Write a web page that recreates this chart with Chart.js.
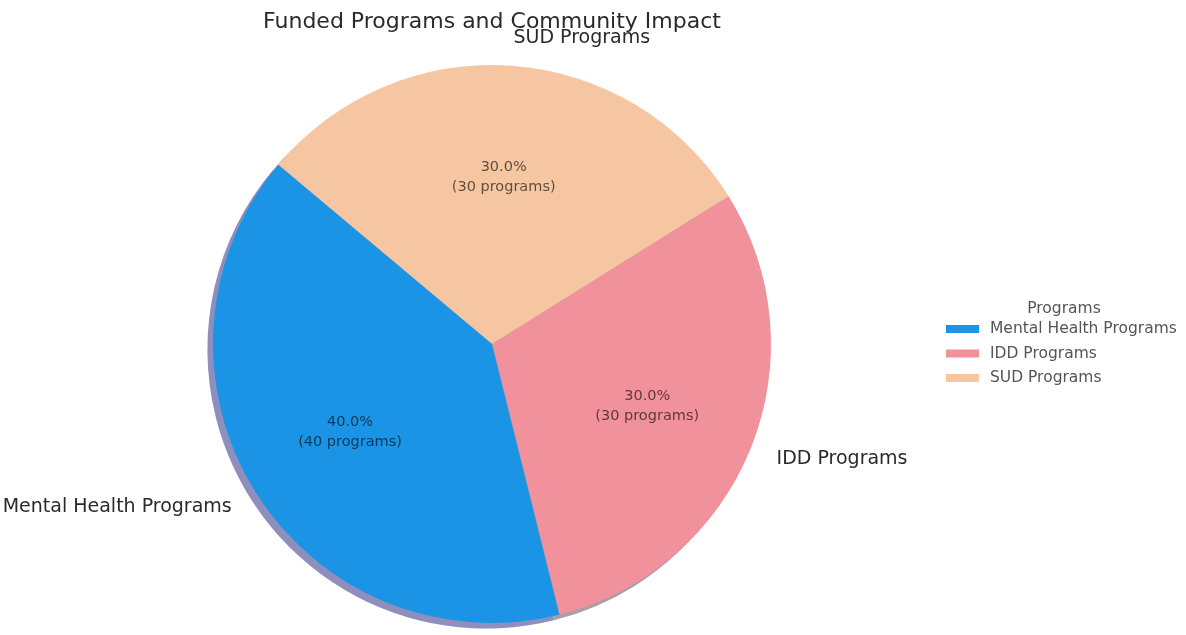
<!DOCTYPE html>
<html>
<head>
<meta charset="utf-8">
<script src="https://cdn.jsdelivr.net/npm/chart.js@4.4.1/dist/chart.umd.min.js"></script>
<style>
    html, body { margin: 0; padding: 0; background: #fff; }
    #wrap { width: 1186px; height: 635px; position: relative; }
</style>
</head>
<body>
<div id="wrap"><canvas id="pieChart"></canvas></div>
<script>
// Data (legend order)
const categories = ['Mental Health Programs', 'IDD Programs', 'SUD Programs'];
const programCounts = [40, 30, 30];
const sliceColors = ['#1b94e6', '#f0919b', '#f6c5a1'];
const shadowColors = ['#8e8fbd', '#a99fa5', '#c4b4a6'];
const chartTitle = 'Funded Programs and Community Impact';
const legendTitle = 'Programs';

// matplotlib draws counter-clockwise, Chart.js clockwise -> feed reversed order
const order = [2, 1, 0];
const total = programCounts.reduce((a, b) => a + b, 0);
const FONT = '"DejaVu Sans", Verdana, sans-serif';

// shadow under the pie, offset left/down like matplotlib
const shadowPlugin = {
    id: 'pieShadow',
    beforeDatasetsDraw(chart) {
        const ctx = chart.ctx;
        const meta = chart.getDatasetMeta(0);
        const off = meta.data[0].outerRadius * 0.02;
        ctx.save();
        meta.data.forEach((arc, i) => {
            ctx.beginPath();
            ctx.moveTo(arc.x - off, arc.y + off);
            ctx.arc(arc.x - off, arc.y + off, arc.outerRadius, arc.startAngle, arc.endAngle);
            ctx.closePath();
            ctx.fillStyle = shadowColors[order[i]];
            ctx.fill();
        });
        ctx.restore();
    }
};

// labels outside, percentages inside, title and legend
const labelPlugin = {
    id: 'pieLabels',
    afterDatasetsDraw(chart) {
        const ctx = chart.ctx;
        const meta = chart.getDatasetMeta(0);
        ctx.save();
        meta.data.forEach((arc, i) => {
            const idx = order[i];
            const mid = (arc.startAngle + arc.endAngle) / 2;
            const r = arc.outerRadius;
            // outside label
            const lx = arc.x + Math.cos(mid) * r * 1.1;
            const ly = arc.y + Math.sin(mid) * r * 1.1;
            ctx.font = '19px ' + FONT;
            ctx.fillStyle = '#2a2a2a';
            ctx.textBaseline = 'middle';
            ctx.textAlign = Math.cos(mid) >= 0 ? 'left' : 'right';
            ctx.fillText(categories[idx], lx, ly);
            // inside percent
            const px = arc.x + Math.cos(mid) * r * 0.6;
            const py = arc.y + Math.sin(mid) * r * 0.6;
            const pct = (programCounts[idx] / total * 100).toFixed(1) + '%';
            ctx.font = '14.5px ' + FONT;
            ctx.fillStyle = 'rgba(0,0,0,0.62)';
            ctx.textAlign = 'center';
            ctx.fillText(pct, px, py - 10);
            ctx.fillText('(' + programCounts[idx] + ' programs)', px, py + 10);
        });

        // title
        ctx.font = '22px ' + FONT;
        ctx.fillStyle = '#2a2a2a';
        ctx.textAlign = 'center';
        ctx.textBaseline = 'middle';
        ctx.fillText(chartTitle, 492, 22);

        // legend
        ctx.font = '15.5px ' + FONT;
        ctx.fillStyle = '#555';
        ctx.fillText(legendTitle, 1064, 309);
        categories.forEach((name, i) => {
            const y = 329 + i * 24.5;
            ctx.fillStyle = sliceColors[i];
            ctx.fillRect(946, y - 4, 33, 8);
            ctx.fillStyle = '#555';
            ctx.textAlign = 'left';
            ctx.fillText(name, 990, y);
        });
        ctx.restore();
    }
};

new Chart(document.getElementById('pieChart'), {
    type: 'pie',
    data: {
        labels: order.map(i => categories[i]),
        datasets: [{
            data: order.map(i => programCounts[i]),
            backgroundColor: order.map(i => sliceColors[i]),
            borderWidth: 0
        }]
    },
    options: {
        responsive: true,
        maintainAspectRatio: false,
        animation: false,
        rotation: -50,
        layout: {
            padding: { left: 213, right: 415, top: 65, bottom: 12 }
        },
        plugins: {
            legend: { display: false },
            tooltip: { enabled: false }
        }
    },
    plugins: [shadowPlugin, labelPlugin]
});
</script>
</body>
</html>
